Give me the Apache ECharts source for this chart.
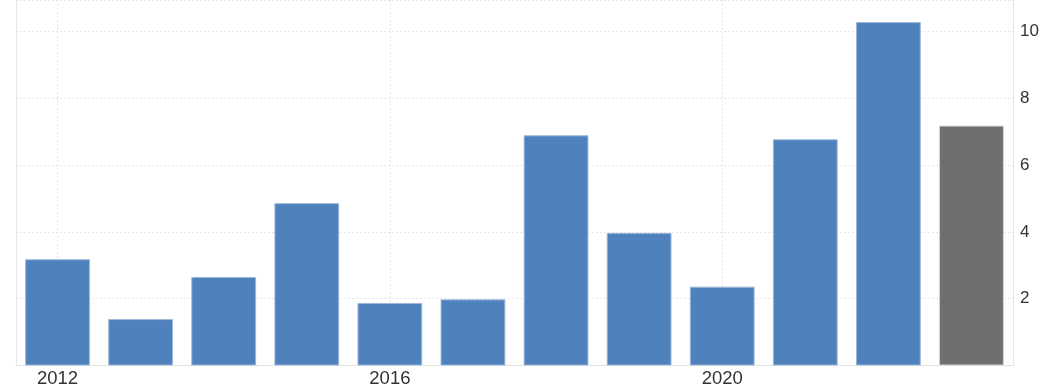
<!DOCTYPE html>
<html>
<head>
<meta charset="utf-8">
<script src="https://cdn.jsdelivr.net/npm/echarts@6/dist/echarts.min.js"></script>
<style>
  html, body { margin: 0; padding: 0; background: #ffffff; }
  #chart { width: 1052px; height: 392px; }
</style>
</head>
<body>
<div id="chart"></div>
<script>
const years = ['2012','2013','2014','2015','2016','2017','2018','2019','2020','2021','2022','2023'];
const values = [3.18, 1.39, 2.65, 4.86, 1.87, 1.98, 6.89, 3.97, 2.36, 6.77, 10.28, 7.18];
const forecastIndex = 11;
const yTicks = [2, 4, 6, 8, 10];

const BLUE = '#4f81bd';
const BLUE_EDGE = '#9db8da';
const GRAY = '#6e6e6e';
const GRAY_EDGE = '#d0d0d0';

const barData = values.map((v, i) => ({
  value: v,
  itemStyle: i === forecastIndex
    ? { color: GRAY, borderColor: GRAY_EDGE }
    : { color: BLUE, borderColor: BLUE_EDGE }
}));

const chart = echarts.init(document.getElementById('chart'), null, { renderer: 'canvas' });
chart.setOption({
  animation: false,
  backgroundColor: '#ffffff',
  textStyle: { fontFamily: 'Liberation Sans, Arial, sans-serif' },
  grid: { left: 16, right: 39, top: 0, bottom: 26.5, containLabel: false },
  xAxis: {
    type: 'category',
    data: years,
    boundaryGap: true,
    axisLine: { show: true, lineStyle: { color: '#e2e2e2', width: 1 } },
    axisTick: { show: false, alignWithLabel: true, interval: 3 },
    axisLabel: { interval: 3, color: '#333333', fontSize: 18.5, margin: 4 },
    splitLine: { show: true, alignWithLabel: true, interval: 3, lineStyle: { color: '#e6e6e6', type: [2, 2], width: 1 } }
  },
  yAxis: [{
    type: 'value',
    position: 'right',
    min: 0,
    max: 10.94,
    interval: 2,
    axisLine: { show: true, lineStyle: { color: '#e6e6e6' } },
    axisTick: { show: false },
    axisLabel: {
      color: '#333333', fontSize: 17, margin: 7,
      showMinLabel: false, showMaxLabel: false,
      formatter: v => (yTicks.includes(v) ? String(v) : '')
    },
    splitLine: { show: true, lineStyle: { color: '#e6e6e6', type: [2, 2], width: 1 } }
  }, {
    type: 'value',
    position: 'left',
    min: 0,
    max: 10.94,
    interval: 2,
    axisLine: { show: true, lineStyle: { color: '#e6e6e6' } },
    axisTick: { show: false },
    axisLabel: { show: false },
    splitLine: { show: false }
  }],
  series: [{
    type: 'bar',
    data: barData,
    barCategoryGap: '22%',
    itemStyle: { borderWidth: 1 }
  }]
});
</script>
</body>
</html>
